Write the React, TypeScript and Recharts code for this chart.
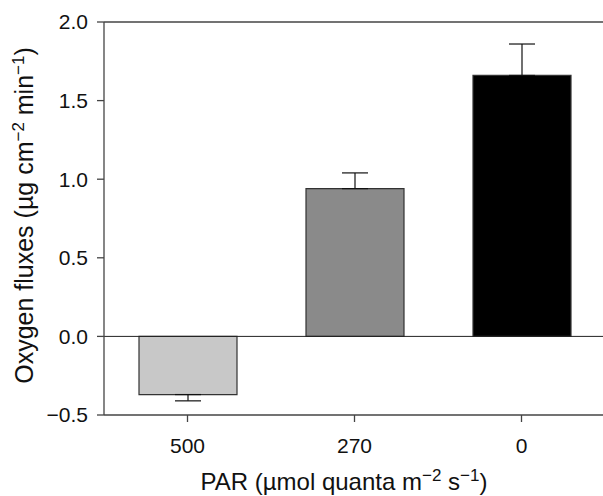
import { BarChart, Bar, XAxis, YAxis, ReferenceLine, ErrorBar, Cell } from 'recharts';

// values
const categories = ['500', '270', '0'];
const fluxes = [-0.37, 0.94, 1.66];
const errDown = [0.04, 0, 0];
const errUp = [0, 0.1, 0.2];
const fills = ['#c8c8c8', '#8a8a8a', '#000000'];
const yTicks = [-0.5, 0, 0.5, 1.0, 1.5, 2.0];

const data = categories.map((par, i) => ({
  par,
  flux: fluxes[i],
  err: [errDown[i], errUp[i]],
}));

const FONT = '"Liberation Sans", Arial, Helvetica, sans-serif';
const AXIS = '#444';
const TICK = { fontSize: 21, fill: '#111', fontFamily: FONT };

const fmtY = (v: number) => (v < 0 ? '\u2212' + Math.abs(v).toFixed(1) : v.toFixed(1));

// eslint-disable-next-line @typescript-eslint/no-explicit-any
const YLabel = ({ viewBox }: any) => {
  const cx = 33;
  const cy = viewBox.y + viewBox.height / 2 - 3;
  return (
    <text
      x={cx}
      y={cy}
      transform={`rotate(-90, ${cx}, ${cy})`}
      textAnchor="middle"
      fontFamily={FONT}
      fontSize={25}
      fill="#111"
    >
      Oxygen fluxes (µg cm
      <tspan dy={-9} fontSize={17}>−2</tspan>
      <tspan dy={9}> min</tspan>
      <tspan dy={-9} fontSize={17}>−1</tspan>
      <tspan dy={9}>)</tspan>
    </text>
  );
};

const XLabel = () => (
  <text x={344} y={490} textAnchor="middle" fontFamily={FONT} fontSize={24} fill="#111">
    PAR (µmol quanta m
    <tspan dy={-9} fontSize={17}>−2</tspan>
    <tspan dy={9}> s</tspan>
    <tspan dy={-9} fontSize={17}>−1</tspan>
    <tspan dy={9}>)</tspan>
  </text>
);

export default function App() {
  return (
    <div style={{ position: 'absolute', left: 0, top: 0, width: 603, height: 496, overflow: 'hidden', background: '#fff' }}>
      <BarChart
        width={606}
        height={496}
        data={data}
        margin={{ top: 22, right: 1, left: 0, bottom: 0 }}
        style={{ fontFamily: FONT }}
      >
        <XAxis
          dataKey="par"
          height={81}
          axisLine={{ stroke: AXIS, strokeWidth: 1.3 }}
          tickLine={{ stroke: AXIS, strokeWidth: 1.3 }}
          tickSize={7}
          tickMargin={16}
          fontSize={21}
          tick={TICK}
          label={<XLabel />}
        />
        <YAxis
          width={104}
          domain={[-0.5, 2]}
          ticks={yTicks}
          tickFormatter={fmtY}
          axisLine={{ stroke: AXIS, strokeWidth: 1.3 }}
          tickLine={{ stroke: AXIS, strokeWidth: 1.3 }}
          tickSize={7}
          tickMargin={9}
          fontSize={21}
          tick={TICK}
          label={<YLabel />}
        />
        <ReferenceLine y={2} stroke={AXIS} strokeWidth={1.3} />
        <ReferenceLine y={0} stroke="#222" strokeWidth={1} />
        <Bar dataKey="flux" barSize={98} stroke="#333" strokeWidth={1.2} isAnimationActive={false}>
          {data.map((d, i) => (
            <Cell key={d.par} fill={fills[i]} />
          ))}
          <ErrorBar dataKey="err" width={13} stroke="#111" strokeWidth={1.2} direction="y" />
        </Bar>
      </BarChart>
    </div>
  );
}
